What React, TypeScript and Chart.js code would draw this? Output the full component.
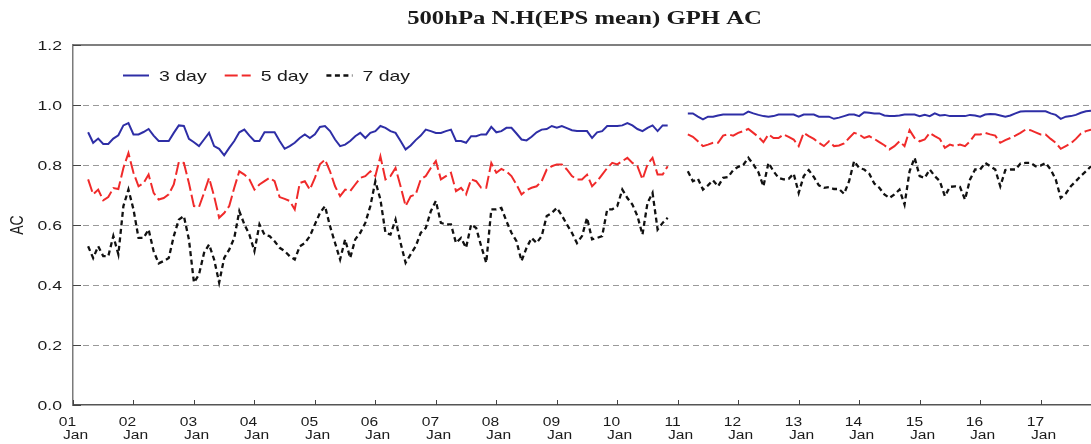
import React, { useEffect, useRef } from "react";
import { Chart, registerables } from "chart.js";

Chart.register(...registerables);

const TITLE = "500hPa N.H(EPS mean) GPH AC";
const Y_TITLE = "AC";
const YEAR_LABELS = ["01", "02", "03", "04", "05", "06", "07", "08", "09", "10", "11", "12", "13", "14", "15", "16", "17"];
const MONTH_LABEL = "Jan";
const SERIES_LABELS = ["3 day", "5 day", "7 day"];
const FIRST_MONTH = 3; // April 2001 (months counted from Jan 2001)
const AXIS_MAX_MONTH = 202;

const day3 = [
  0.909, 0.874, 0.888, 0.870, 0.870, 0.888, 0.899, 0.932, 0.940,
  0.902, 0.902, 0.910, 0.920, 0.898, 0.880, 0.880, 0.880, 0.907, 0.932, 0.930, 0.887,
  0.876, 0.863, 0.885, 0.907, 0.863, 0.854, 0.832, 0.857, 0.880, 0.909, 0.918, 0.898,
  0.880, 0.880, 0.909, 0.909, 0.909, 0.880, 0.854, 0.863, 0.874, 0.890, 0.902, 0.890,
  0.902, 0.927, 0.930, 0.913, 0.885, 0.863, 0.868, 0.880, 0.896, 0.907, 0.890, 0.907,
  0.913, 0.930, 0.924, 0.913, 0.907, 0.880, 0.852, 0.865, 0.883, 0.898, 0.918, 0.913,
  0.907, 0.907, 0.913, 0.918, 0.880, 0.880, 0.874, 0.896, 0.896, 0.902, 0.902, 0.927,
  0.909, 0.913, 0.924, 0.924, 0.905, 0.885, 0.882, 0.894, 0.909, 0.918, 0.920, 0.930,
  0.924, 0.930, 0.923, 0.916, 0.913, 0.913, 0.913, 0.890, 0.909, 0.913, 0.930, 0.930,
  0.930, 0.932, 0.940, 0.932, 0.920, 0.913, 0.924, 0.932, 0.913, 0.932, 0.932, null,
  null, null, 0.972, 0.972, 0.961, 0.952, 0.961, 0.961, 0.965, 0.968, 0.968, 0.968,
  0.968, 0.968, 0.978, 0.972, 0.967, 0.963, 0.961, 0.963, 0.968, 0.968, 0.968, 0.968,
  0.961, 0.968, 0.968, 0.968, 0.961, 0.961, 0.961, 0.954, 0.958, 0.963, 0.968, 0.968,
  0.963, 0.976, 0.974, 0.972, 0.972, 0.965, 0.963, 0.963, 0.965, 0.968, 0.968, 0.968,
  0.963, 0.967, 0.963, 0.972, 0.965, 0.967, 0.963, 0.963, 0.963, 0.963, 0.967, 0.965,
  0.961, 0.968, 0.970, 0.969, 0.965, 0.961, 0.965, 0.972, 0.978, 0.979, 0.979, 0.979,
  0.979, 0.979, 0.972, 0.967, 0.954, 0.961, 0.963, 0.967, 0.974, 0.979, 0.981,
];

const day5 = [
  0.752, 0.702, 0.718, 0.682, 0.693, 0.723, 0.720, 0.790, 0.840,
  0.774, 0.729, 0.740, 0.768, 0.707, 0.685, 0.690, 0.702, 0.735, 0.810, 0.807, 0.740,
  0.663, 0.660, 0.707, 0.757, 0.696, 0.624, 0.640, 0.663, 0.724, 0.779, 0.768, 0.752,
  0.718, 0.735, 0.746, 0.757, 0.746, 0.693, 0.687, 0.680, 0.652, 0.740, 0.746, 0.718,
  0.757, 0.802, 0.818, 0.779, 0.729, 0.696, 0.718, 0.713, 0.735, 0.757, 0.763, 0.779,
  0.763, 0.829, 0.752, 0.763, 0.790, 0.729, 0.663, 0.696, 0.702, 0.752, 0.763, 0.790,
  0.813, 0.752, 0.763, 0.774, 0.713, 0.724, 0.702, 0.752, 0.746, 0.724, 0.724, 0.807,
  0.774, 0.787, 0.779, 0.763, 0.735, 0.702, 0.716, 0.724, 0.729, 0.746, 0.785, 0.796,
  0.802, 0.802, 0.785, 0.763, 0.752, 0.752, 0.768, 0.729, 0.746, 0.768, 0.790, 0.807,
  0.802, 0.813, 0.824, 0.807, 0.796, 0.752, 0.802, 0.824, 0.768, 0.768, 0.796, null,
  null, null, 0.902, 0.894, 0.879, 0.863, 0.868, 0.874, 0.874, 0.898, 0.902, 0.898,
  0.907, 0.913, 0.920, 0.907, 0.894, 0.876, 0.902, 0.890, 0.890, 0.902, 0.894, 0.885,
  0.863, 0.907, 0.896, 0.887, 0.874, 0.863, 0.879, 0.863, 0.865, 0.872, 0.890, 0.907,
  0.902, 0.890, 0.896, 0.887, 0.876, 0.866, 0.852, 0.863, 0.879, 0.863, 0.916, 0.890,
  0.879, 0.885, 0.907, 0.896, 0.887, 0.857, 0.868, 0.863, 0.868, 0.863, 0.879, 0.902,
  0.902, 0.907, 0.902, 0.898, 0.874, 0.883, 0.890, 0.898, 0.907, 0.918, 0.916, 0.909,
  0.902, 0.902, 0.887, 0.874, 0.854, 0.863, 0.872, 0.887, 0.905, 0.913, 0.918,
];

const day7 = [
  0.529, 0.490, 0.529, 0.496, 0.496, 0.563, 0.502, 0.663, 0.718,
  0.652, 0.557, 0.557, 0.585, 0.513, 0.472, 0.480, 0.490, 0.563, 0.618, 0.630, 0.552,
  0.408, 0.435, 0.507, 0.535, 0.485, 0.408, 0.490, 0.518, 0.557, 0.646, 0.602, 0.568,
  0.513, 0.602, 0.568, 0.563, 0.546, 0.524, 0.513, 0.496, 0.485, 0.529, 0.540, 0.563,
  0.602, 0.640, 0.663, 0.596, 0.540, 0.485, 0.552, 0.490, 0.552, 0.574, 0.607, 0.663,
  0.746, 0.685, 0.574, 0.568, 0.618, 0.540, 0.474, 0.502, 0.529, 0.574, 0.590, 0.646,
  0.680, 0.607, 0.602, 0.602, 0.540, 0.557, 0.524, 0.602, 0.590, 0.529, 0.474, 0.652,
  0.652, 0.657, 0.613, 0.574, 0.546, 0.480, 0.524, 0.557, 0.540, 0.563, 0.630, 0.640,
  0.657, 0.632, 0.602, 0.574, 0.540, 0.563, 0.624, 0.552, 0.557, 0.563, 0.652, 0.652,
  0.663, 0.718, 0.690, 0.668, 0.630, 0.568, 0.674, 0.707, 0.585, 0.607, 0.624, null,
  null, null, 0.779, 0.746, 0.754, 0.718, 0.732, 0.749, 0.729, 0.757, 0.760, 0.783,
  0.794, 0.800, 0.824, 0.802, 0.776, 0.729, 0.807, 0.779, 0.757, 0.752, 0.754, 0.771,
  0.707, 0.763, 0.783, 0.760, 0.732, 0.724, 0.726, 0.720, 0.720, 0.704, 0.746, 0.813,
  0.790, 0.785, 0.771, 0.738, 0.724, 0.702, 0.690, 0.702, 0.718, 0.668, 0.779, 0.824,
  0.763, 0.757, 0.785, 0.763, 0.746, 0.696, 0.727, 0.729, 0.727, 0.685, 0.752, 0.785,
  0.785, 0.807, 0.796, 0.785, 0.729, 0.783, 0.785, 0.785, 0.805, 0.807, 0.807, 0.796,
  0.798, 0.807, 0.785, 0.752, 0.690, 0.705, 0.729, 0.746, 0.764, 0.779, 0.796,
];

const SX = 1.3; // horizontal stretch of the reference's lettering

function drawText(
  ctx: CanvasRenderingContext2D,
  text: string,
  x: number,
  y: number,
  font: string,
  align: CanvasTextAlign,
  baseline: CanvasTextBaseline = "alphabetic",
  color = "#1a1a1a",
  rotate = 0
) {
  ctx.save();
  ctx.translate(x, y);
  ctx.scale(SX, 1);
  if (rotate) ctx.rotate(rotate);
  ctx.font = font;
  ctx.textAlign = align;
  ctx.textBaseline = baseline;
  ctx.fillStyle = color;
  ctx.fillText(text, 0, 0);
  ctx.restore();
}

const gridPlugin = {
  id: "dashedGrid",
  beforeDatasetsDraw(chart: any) {
    const ctx: CanvasRenderingContext2D = chart.ctx;
    const a = chart.chartArea;
    const ys = chart.scales.y;
    ctx.save();
    ctx.strokeStyle = "#9a9a9a";
    ctx.lineWidth = 1;
    ctx.setLineDash([6, 4]);
    ys.ticks.forEach((t: any) => {
      if (t.value <= 0.001 || t.value >= 1.199) return;
      const py = Math.round(ys.getPixelForValue(t.value)) + 0.5;
      ctx.beginPath();
      ctx.moveTo(a.left, py);
      ctx.lineTo(a.right, py);
      ctx.stroke();
    });
    ctx.restore();
  },
};

const decorPlugin = {
  id: "decor",
  afterDraw(chart: any) {
    const ctx: CanvasRenderingContext2D = chart.ctx;
    const a = chart.chartArea;
    const xs = chart.scales.x;
    const ys = chart.scales.y;
    ctx.save();
    // top frame line
    ctx.strokeStyle = "#555";
    ctx.lineWidth = 1.5;
    ctx.beginPath();
    ctx.moveTo(a.left, a.top);
    ctx.lineTo(a.right, a.top);
    ctx.stroke();

    // x ticks (inward) and two-line labels
    ctx.strokeStyle = "#444";
    ctx.lineWidth = 1;
    YEAR_LABELS.forEach((lab, i) => {
      const px = Math.round(xs.getPixelForValue(i * 12)) + 0.5;
      ctx.beginPath();
      ctx.moveTo(px, a.bottom);
      ctx.lineTo(px, a.bottom - 5);
      ctx.stroke();
      drawText(ctx, lab, px - 6, a.bottom + 20.5, '12px "Liberation Sans"', "center");
      drawText(ctx, MONTH_LABEL, px + 2, a.bottom + 33.5, '12px "Liberation Sans"', "center");
    });

    // y ticks (inward) and labels
    ys.ticks.forEach((t: any) => {
      const py = Math.round(ys.getPixelForValue(t.value)) + 0.5;
      ctx.beginPath();
      ctx.moveTo(a.left, py);
      ctx.lineTo(a.left + 8, py);
      ctx.stroke();
      drawText(ctx, Number(t.value).toFixed(1), a.left - 11, py + 0.5, '13.5px "Liberation Sans"', "right", "middle");
    });

    // y title
    drawText(ctx, Y_TITLE, 18, (a.top + a.bottom) / 2, '14px "Liberation Sans"', "center", "middle", "#1a1a1a", -Math.PI / 2);

    // title
    drawText(ctx, TITLE, 584.5, 24, 'bold 19px "Liberation Serif"', "center");

    // legend inside the plot
    let lx = a.left + 50;
    const ly = 75.5;
    chart.data.datasets.forEach((ds: any) => {
      ctx.save();
      ctx.strokeStyle = ds.borderColor;
      ctx.lineWidth = ds.borderWidth;
      ctx.setLineDash(ds.borderDash || []);
      ctx.beginPath();
      ctx.moveTo(lx, ly);
      ctx.lineTo(lx + 26, ly);
      ctx.stroke();
      ctx.restore();
      const tx = lx + 36;
      drawText(ctx, ds.label, tx, 81, '15px "Liberation Sans"', "left");
      ctx.save();
      ctx.font = '15px "Liberation Sans"';
      const w = ctx.measureText(ds.label).width * SX;
      ctx.restore();
      lx = tx + w + 18;
    });
    ctx.restore();
  },
};

export default function App() {
  const canvasRef = useRef<HTMLCanvasElement | null>(null);

  useEffect(() => {
    if (!canvasRef.current) return;
    const toPoints = (arr: (number | null)[]) =>
      arr.map((v, i) => ({ x: FIRST_MONTH + i, y: v }));

    const chart = new Chart(canvasRef.current, {
      type: "line",
      data: {
        datasets: [
          {
            label: SERIES_LABELS[0],
            data: toPoints(day3) as any,
            borderColor: "#2e2ea6",
            borderWidth: 2,
            pointRadius: 0,
            tension: 0,
            spanGaps: false,
          },
          {
            label: SERIES_LABELS[1],
            data: toPoints(day5) as any,
            borderColor: "#f02a2a",
            borderWidth: 2,
            borderDash: [13, 4],
            pointRadius: 0,
            tension: 0,
            spanGaps: false,
          },
          {
            label: SERIES_LABELS[2],
            data: toPoints(day7) as any,
            borderColor: "#111111",
            borderWidth: 2.3,
            borderDash: [5, 3.5],
            pointRadius: 0,
            tension: 0,
            spanGaps: false,
          },
        ],
      },
      options: {
        responsive: false,
        animation: false,
        events: [],
        layout: { padding: { top: 45, left: 0, right: 0, bottom: 0 } },
        plugins: {
          legend: { display: false },
          title: { display: false },
          tooltip: { enabled: false },
        },
        scales: {
          x: {
            type: "linear",
            min: 0,
            max: AXIS_MAX_MONTH,
            ticks: { display: false, stepSize: 12 },
            grid: { display: false, drawTicks: false },
            border: { display: true, color: "#555", width: 1.5 },
            afterFit: (s: any) => {
              s.height = 39;
            },
          },
          y: {
            min: 0,
            max: 1.2,
            ticks: { display: false, stepSize: 0.2 },
            grid: { display: true, drawOnChartArea: false, drawTicks: false },
            border: { display: true, color: "#7a7a7a", width: 1.5 },
            afterFit: (s: any) => {
              s.width = 73;
            },
          },
        },
      },
      plugins: [gridPlugin, decorPlugin],
    });
    return () => chart.destroy();
  }, []);

  return (
    <div style={{ position: "absolute", left: 0, top: 0, width: 1091, height: 444, background: "#fff" }}>
      <canvas ref={canvasRef} width={1091} height={444} style={{ display: "block" }} />
    </div>
  );
}
